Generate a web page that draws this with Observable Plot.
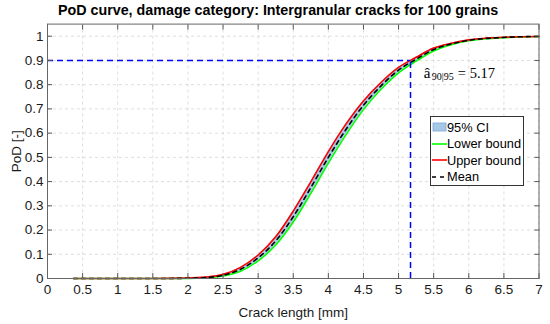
<!DOCTYPE html>
<html>
<head>
<meta charset="utf-8">
<script src="https://cdn.jsdelivr.net/npm/d3@7"></script>
<script src="https://cdn.jsdelivr.net/npm/@observablehq/plot@0.6"></script>
<style>
  html, body { margin: 0; padding: 0; background: #fff; }
  #wrap { position: relative; width: 550px; height: 324px; font-family: "Liberation Sans", Arial, sans-serif; }
  #title { position: absolute; left: 0; top: 2px; width: 550px; text-align: center; font-weight: bold; font-size: 14.3px; color: #000; padding-left: 6px; box-sizing: border-box; }
  #chart { position: absolute; left: 0; top: 20px; }
  #legend { position: absolute; left: 430px; top: 116px; width: 92px; height: 68px; border: 1px solid #333; background: #fff; font-size: 12.8px; color: #000; overflow: hidden; }
  .row { position: absolute; left: 1px; height: 16px; display: flex; align-items: center; white-space: nowrap; width: 92px; }
  .row svg { flex: none; }
  .row span { white-space: nowrap; }
</style>
</head>
<body>
<div id="wrap">
  <div id="title">PoD curve, damage category: Intergranular cracks for 100 grains</div>
  <div id="chart"></div>
  <div id="legend"></div>
</div>
<script>
// Crack length [mm]
const crackLength = [0.37, 0.5, 1.0, 1.5, 2.0, 2.25, 2.5, 2.75, 3.0, 3.25, 3.5, 3.75, 4.0, 4.25, 4.5, 4.75, 5.0, 5.25, 5.5, 5.75, 6.0, 6.25, 6.5, 6.75, 7.0];
// PoD values
const meanPoD  = [0, 0, 0, 0, 0.001, 0.004, 0.013, 0.038, 0.085, 0.155, 0.255, 0.375, 0.500, 0.615, 0.715, 0.795, 0.860, 0.905, 0.945, 0.968, 0.983, 0.991, 0.995, 0.998, 0.999];
const upperPoD = [0, 0, 0, 0, 0.0015, 0.0055, 0.017, 0.046, 0.097, 0.172, 0.278, 0.399, 0.524, 0.637, 0.733, 0.809, 0.871, 0.913, 0.951, 0.971, 0.985, 0.992, 0.996, 0.998, 0.999];
const lowerPoD = [0, 0, 0, 0, 0.0006, 0.0027, 0.010, 0.030, 0.073, 0.138, 0.233, 0.351, 0.476, 0.593, 0.697, 0.781, 0.849, 0.897, 0.939, 0.965, 0.981, 0.990, 0.994, 0.997, 0.999];
const a9095 = 5.17;
const podLevel = 0.9;
const xTicks = [0, 0.5, 1, 1.5, 2, 2.5, 3, 3.5, 4, 4.5, 5, 5.5, 6, 6.5, 7];
const yTicks = [0, 0.1, 0.2, 0.3, 0.4, 0.5, 0.6, 0.7, 0.8, 0.9, 1];
const legendLabels = ["95% CI", "Lower bound", "Upper bound", "Mean"];

const rows = crackLength.map((a, i) => ({a, mean: meanPoD[i], lo: lowerPoD[i], hi: upperPoD[i]}));

const fmt = d => String(d);
const gridStyle = {stroke: "#bbb", strokeOpacity: 0.7, strokeDasharray: "3,3", strokeWidth: 0.7};

const plot = Plot.plot({
  width: 550,
  height: 304,
  marginLeft: 47,
  marginRight: 11.5,
  marginTop: 3.6,
  marginBottom: 46,
  style: {fontFamily: "Liberation Sans, Arial, sans-serif", fontSize: "13.5px", color: "#1a1a1a", background: "#fff"},
  x: {domain: [0, 7]},
  y: {domain: [0, 1.05]},
  marks: [
    Plot.gridX(xTicks, gridStyle),
    Plot.gridY(yTicks, gridStyle),
    Plot.areaY(rows, {x: "a", y1: "lo", y2: "hi", fill: "#a7c7e7", curve: "monotone-x"}),
    Plot.line(rows, {x: "a", y: "lo", stroke: "#00ff00", strokeWidth: 1.6, curve: "monotone-x"}),
    Plot.line(rows, {x: "a", y: "hi", stroke: "#ff0000", strokeWidth: 1.6, curve: "monotone-x"}),
    Plot.line(rows, {x: "a", y: "mean", stroke: "#000", strokeWidth: 1.6, strokeDasharray: "4,4", curve: "monotone-x"}),
    Plot.ruleY([podLevel], {x1: 0, x2: a9095, stroke: "#0000ff", strokeWidth: 1.5, strokeDasharray: "6,4"}),
    Plot.ruleX([a9095], {y1: 0, y2: podLevel, stroke: "#0000ff", strokeWidth: 1.5, strokeDasharray: "6,4"}),
    Plot.text([{x: 5.36, y: 0.848}], {x: "x", y: "y", text: () => "â", textAnchor: "start", fontFamily: "Liberation Serif, serif", fontSize: 15, fill: "#000"}),
    Plot.text([{x: 5.36, y: 0.848}], {x: "x", y: "y", text: () => "90|95", textAnchor: "start", dx: 8, dy: 4, fontFamily: "Liberation Serif, serif", fontSize: 10, fill: "#000"}),
    Plot.text([{x: 5.36, y: 0.848}], {x: "x", y: "y", text: () => "= 5.17", textAnchor: "start", dx: 34, fontFamily: "Liberation Serif, serif", fontSize: 14.5, fill: "#000"}),
    Plot.axisX(xTicks, {anchor: "bottom", tickSize: 0, tickPadding: 6, tickFormat: fmt, label: "Crack length [mm]", labelAnchor: "center", labelArrow: "none", labelOffset: 38, fontSize: 13.5, fill: "#1a1a1a"}),
    Plot.axisY(yTicks, {anchor: "left", tickSize: 0, tickPadding: 4, tickFormat: fmt, label: "PoD [-]", labelAnchor: "center", labelArrow: "none", labelOffset: 36, fontSize: 13.5, fill: "#1a1a1a"}),
    Plot.axisX(xTicks, {anchor: "bottom", tickSize: -5, text: null, label: null, stroke: "#555"}),
    Plot.axisX(xTicks, {anchor: "top", tickSize: -5, text: null, label: null, stroke: "#555"}),
    Plot.axisY(yTicks, {anchor: "left", tickSize: -5, text: null, label: null, stroke: "#555"}),
    Plot.axisY(yTicks, {anchor: "right", tickSize: -5, text: null, label: null, stroke: "#555"}),
    Plot.frame({stroke: "#666", strokeWidth: 1})
  ]
});
document.getElementById("chart").appendChild(plot);

// Legend
const legend = document.getElementById("legend");
const swatches = [
  `<svg width="15" height="10"><rect x="1" y="1" width="13" height="8" fill="#a7c7e7" stroke="#7aa6d6" stroke-width="0.8"/></svg>`,
  `<svg width="15" height="10"><line x1="0" y1="5" x2="15" y2="5" stroke="#00ff00" stroke-width="1.6"/></svg>`,
  `<svg width="15" height="10"><line x1="0" y1="5" x2="15" y2="5" stroke="#ff0000" stroke-width="1.6"/></svg>`,
  `<svg width="15" height="10"><line x1="0" y1="5" x2="15" y2="5" stroke="#000" stroke-width="1.6" stroke-dasharray="4,4"/></svg>`
];
legendLabels.forEach((lab, i) => {
  const r = document.createElement("div");
  r.className = "row";
  r.style.top = (2 + i * 16.5) + "px";
  r.innerHTML = swatches[i] + `<span>${lab}</span>`;
  legend.appendChild(r);
});
</script>
</body>
</html>
